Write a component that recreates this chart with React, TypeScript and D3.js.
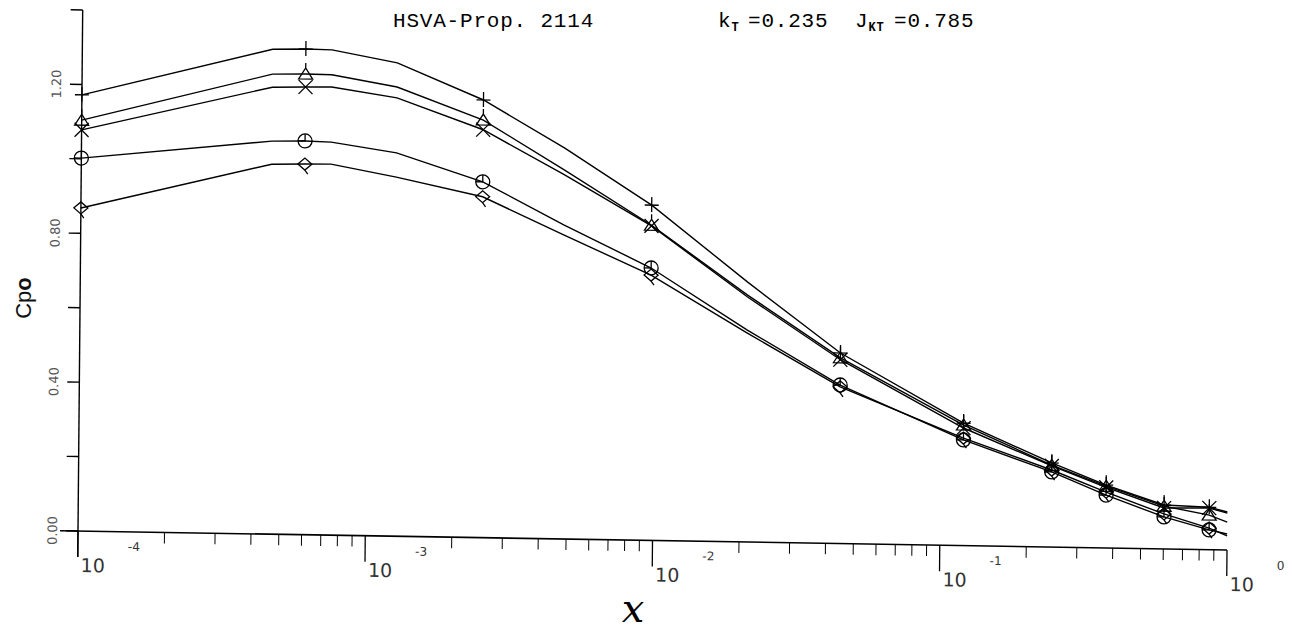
import * as d3 from "d3";

// x positions of the polyline vertices (log scale)
const X_VALUES = [1e-4, 4.6e-4, 6.0e-4, 7.4e-4, 1.25e-3, 2.5e-3, 4.8e-3, 9.7e-3, 2.1e-2, 4.45e-2, 0.12, 0.244, 0.378, 0.602, 0.865, 1.0];
// which vertices carry a plot symbol
const MARKER_IDX = [0, 2, 5, 7, 9, 10, 11, 12, 13, 14];

const CPO_PLUS = [1.172, 1.303, 1.305, 1.304, 1.272, 1.176, 1.051, 0.901, 0.699, 0.512, 0.329, 0.226, 0.169, 0.118, 0.114, 0.102];
const CPO_TRIANGLE = [1.104, 1.236, 1.238, 1.237, 1.207, 1.122, 0.992, 0.847, 0.664, 0.499, 0.324, 0.220, 0.166, 0.115, 0.093, 0.075];
const CPO_CROSS = [1.078, 1.201, 1.203, 1.204, 1.178, 1.096, 0.979, 0.845, 0.659, 0.494, 0.316, 0.218, 0.163, 0.110, 0.112, 0.099];
const CPO_CIRCLE = [1.002, 1.056, 1.058, 1.056, 1.030, 0.956, 0.844, 0.732, 0.570, 0.426, 0.284, 0.202, 0.142, 0.086, 0.053, 0.043];
const CPO_DIAMOND = [0.868, 0.994, 0.996, 0.997, 0.965, 0.916, 0.817, 0.713, 0.562, 0.421, 0.289, 0.207, 0.150, 0.094, 0.058, 0.038];

const SERIES = [
  { name: "plus", values: CPO_PLUS },
  { name: "triangle", values: CPO_TRIANGLE },
  { name: "cross", values: CPO_CROSS },
  { name: "circle", values: CPO_CIRCLE },
  { name: "diamond", values: CPO_DIAMOND },
];

const Y_TICKS = [0, 0.2, 0.4, 0.6, 0.8, 1.0, 1.2, 1.4];
const Y_LABELS = [0, 0.4, 0.8, 1.2];
const X_DECADES = [-4, -3, -2, -1, 0];

function Marker({ type, cx, cy }: { type: string; cx: number; cy: number }) {
  const s = { fill: "none", stroke: "#000", strokeWidth: 1.3 };
  if (type === "plus")
    return <path d={`M${cx - 7},${cy}H${cx + 7}M${cx},${cy - 8}V${cy + 7}`} {...s} />;
  if (type === "cross")
    return <path d={`M${cx - 7},${cy - 7}L${cx + 7},${cy + 7}M${cx + 7},${cy - 7}L${cx - 7},${cy + 7}`} {...s} />;
  if (type === "triangle")
    return <path d={`M${cx - 7},${cy + 5}L${cx},${cy - 6}L${cx + 7},${cy + 5}ZM${cx},${cy - 6}V${cy - 11}`} {...s} />;
  if (type === "circle")
    return <g {...s}><circle cx={cx} cy={cy} r={7} /><path d={`M${cx - 7},${cy}H${cx}V${cy - 7}`} /></g>;
  return <path d={`M${cx - 7},${cy}L${cx},${cy - 6}L${cx + 7},${cy}L${cx},${cy + 6}ZM${cx},${cy + 6}l3,4`} {...s} />;
}

export default function App() {
  const x = d3.scaleLog().domain([1e-4, 1]).range([78, 1227]);
  const y = d3.scaleLinear().domain([0, 1.4]).range([531, 10]);
  const line = d3.line<number>().x((_, i) => x(X_VALUES[i])).y(d => y(d));

  const minor: number[] = [];
  X_DECADES.slice(0, -1).forEach(e => {
    for (let k = 2; k <= 9; k++) minor.push(k * Math.pow(10, e));
  });

  const x0 = x(1e-4), y0 = y(0);
  // the scanned sheet is slightly skewed
  const skew = `translate(${x0},${y0}) matrix(1,0.0165,-0.009,1,0,0) translate(${-x0},${-y0})`;
  const labelFont = "DejaVu Sans";

  return (
    <svg width={1292} height={632} style={{ position: "absolute", left: 0, top: 0, background: "#fff" }}>
      {/* title */}
      <text y={27} fontFamily="Liberation Mono" fontSize={21} letterSpacing={0.8} fill="#000">
        <tspan x={393}>HSVA-Prop. 2114</tspan>
        <tspan x={718}>k</tspan>
        <tspan dy={4} fontSize={12} fontWeight="bold">T</tspan>
        <tspan x={748} dy={-4}>=0.235</tspan>
        <tspan x={855}>J</tspan>
        <tspan dy={4} fontSize={12} fontWeight="bold">KT</tspan>
        <tspan x={894} dy={-4}>=0.785</tspan>
      </text>

      <g transform={skew}>
        {/* y axis */}
        <line x1={x0} x2={x0} y1={y(1.4)} y2={y0 + 26} stroke="#000" strokeWidth={1.4} />
        {Y_TICKS.map(t => (
          <line key={t} x1={x0 - 12} x2={x0} y1={y(t)} y2={y(t)} stroke="#000" strokeWidth={1.4} />
        ))}
        {Y_LABELS.map(t => (
          <text key={t} transform={`translate(${x0 - 21},${y(t)}) rotate(-90)`} textAnchor="middle"
            fontFamily={labelFont} fontSize={13} fill="#555">{t.toFixed(2)}</text>
        ))}

        {/* x axis */}
        <line x1={x0 - 18} x2={x(1)} y1={y0} y2={y0} stroke="#000" strokeWidth={1.6} />
        {X_DECADES.map(e => (
          <line key={e} x1={x(Math.pow(10, e))} x2={x(Math.pow(10, e))} y1={y0} y2={y0 + 26} stroke="#000" strokeWidth={1.3} />
        ))}
        {minor.map(v => (
          <line key={v} x1={x(v)} x2={x(v)} y1={y0} y2={y0 + 11} stroke="#000" strokeWidth={1} />
        ))}
        {X_DECADES.map(e => (
          <g key={e} fontFamily={labelFont} fill="#333">
            <text x={x(Math.pow(10, e)) + 3} y={y0 + 41} fontSize={19}>10</text>
            <text x={x(Math.pow(10, e)) + 50} y={y0 + 19} fontSize={12}>{e === 0 ? "0" : `-${-e}`}</text>
          </g>
        ))}

        {/* curves */}
        {SERIES.map(s => (
          <path key={s.name} d={line(s.values) || ""} fill="none" stroke="#000" strokeWidth={1.4} />
        ))}
        {SERIES.map(s =>
          MARKER_IDX.map(i => (
            <Marker key={s.name + i} type={s.name} cx={x(X_VALUES[i])} cy={y(s.values[i])} />
          ))
        )}
      </g>

      {/* axis titles */}
      <text transform="translate(31,298) rotate(-90)" textAnchor="middle" fontFamily="Liberation Sans" fontSize={22} fill="#111">
        Cp<tspan fontWeight="bold">o</tspan>
      </text>
      <text x={633} y={622} textAnchor="middle" fontFamily="DejaVu Serif" fontStyle="italic" fontSize={40} fill="#000">x</text>
    </svg>
  );
}
